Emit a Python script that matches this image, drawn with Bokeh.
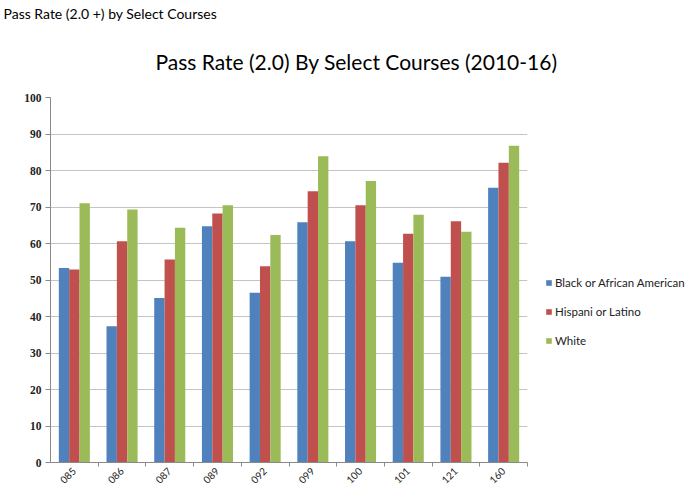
import numpy as np
from bokeh.plotting import figure
from bokeh.models import (ColumnDataSource, Range1d, FixedTicker, Legend, LegendItem,
                          Title)
from bokeh.embed import file_html
from bokeh.resources import INLINE

# ---- data -------------------------------------------------------------
courses = ["085", "086", "087", "089", "092", "099", "100", "101", "121", "160"]
black = [53.3, 37.3, 45.1, 64.7, 46.5, 65.8, 60.6, 54.7, 50.9, 75.3]
hispanic = [52.9, 60.6, 55.6, 68.2, 53.8, 74.3, 70.5, 62.7, 66.1, 82.1]
white = [71.0, 69.3, 64.3, 70.5, 62.3, 83.9, 77.1, 67.9, 63.2, 86.8]
series_names = ["Black or African American", "Hispani or Latino", "White"]
y_ticks = list(range(0, 101, 10))

colors = ["#4F81BD", "#C0504D", "#9BBB59"]
bw = 0.217
pos = np.arange(1, len(courses) + 1)
src = ColumnDataSource(dict(x=pos, xb=pos - bw, xh=pos, xw=pos + bw,
                            course=courses, black=black, hispanic=hispanic,
                            white=white))

p = figure(frame_width=477, frame_height=365, output_backend="svg",
           toolbar_location=None,
           title="Pass Rate (2.0 +) by Select Courses",
           x_range=Range1d(0.5, len(courses) + 0.5), y_range=Range1d(0, 100),
           min_border_left=50, min_border_right=158, min_border_top=0,
           min_border_bottom=24)
p.background_fill_color = "white"
p.border_fill_color = "white"
p.outline_line_color = None

r1 = p.vbar(x="xb", top="black", width=bw, source=src,
            fill_color=colors[0], line_color=None)
r2 = p.vbar(x="xh", top="hispanic", width=bw, source=src,
            fill_color=colors[1], line_color=None)
r3 = p.vbar(x="xw", top="white", width=bw, source=src,
            fill_color=colors[2], line_color=None)

# axes
p.xgrid.visible = False
p.ygrid.grid_line_color = "#c4c4c4"
p.ygrid.ticker = FixedTicker(ticks=y_ticks)
p.yaxis.ticker = FixedTicker(ticks=y_ticks)
p.yaxis.axis_line_color = "#8a8a8a"
p.yaxis.major_tick_line_color = "#8a8a8a"
p.yaxis.major_tick_out = 5
p.yaxis.major_tick_in = 0
p.yaxis.minor_tick_line_color = None
p.yaxis.major_label_standoff = 4
p.yaxis.major_label_text_font = "Liberation Serif"
p.yaxis.major_label_text_font_style = "bold"
p.yaxis.major_label_text_font_size = "11.5px"
p.yaxis.major_label_text_color = "#222222"

# x axis: labels at category centres, tick marks between categories
p.xaxis.ticker = FixedTicker(ticks=list(pos), minor_ticks=list(pos + 0.5))
p.xaxis.major_label_overrides = {int(i): c for i, c in zip(pos, courses)}
p.xaxis.major_label_orientation = np.pi / 4
p.xaxis.axis_line_color = "#8a8a8a"
p.xaxis.major_tick_line_color = None
p.xaxis.major_tick_out = 0
p.xaxis.major_tick_in = 0
p.xaxis.minor_tick_line_color = "#8a8a8a"
p.xaxis.minor_tick_out = 4
p.xaxis.minor_tick_in = 0
p.xaxis.major_label_standoff = 3
p.xaxis.major_label_text_font = "Lato"
p.xaxis.major_label_text_font_size = "10px"
p.xaxis.major_label_text_color = "#222222"

# titles: header (outermost) and chart title (next to the plot)
p.title.align = "left"
p.title.offset = -47
p.title.text_font = "Lato"
p.title.text_font_size = "14px"
p.title.text_font_style = "normal"
p.title.text_color = "#000000"
p.title.standoff = 4
chart_title = Title(text="Pass Rate (2.0) By Select  Courses (2010-16)", align="left",
                    offset=105, text_font="Lato", text_font_size="21px",
                    text_font_style="normal", text_color="#000000", standoff=47)
p.add_layout(chart_title, "above")

# legend (right of the plot area)
legend = Legend(items=[LegendItem(label=series_names[0], renderers=[r1]),
                       LegendItem(label=series_names[1], renderers=[r2]),
                       LegendItem(label=series_names[2], renderers=[r3])],
                location=(18, 115), orientation="vertical",
                glyph_width=7, glyph_height=7, label_standoff=3, spacing=16,
                padding=4, margin=0, border_line_color=None,
                background_fill_alpha=0,
                label_text_font="Lato", label_text_font_size="11.5px",
                label_text_color="#222222")
p.add_layout(legend, "right")

open("out.html", "w").write(file_html(p, INLINE))
